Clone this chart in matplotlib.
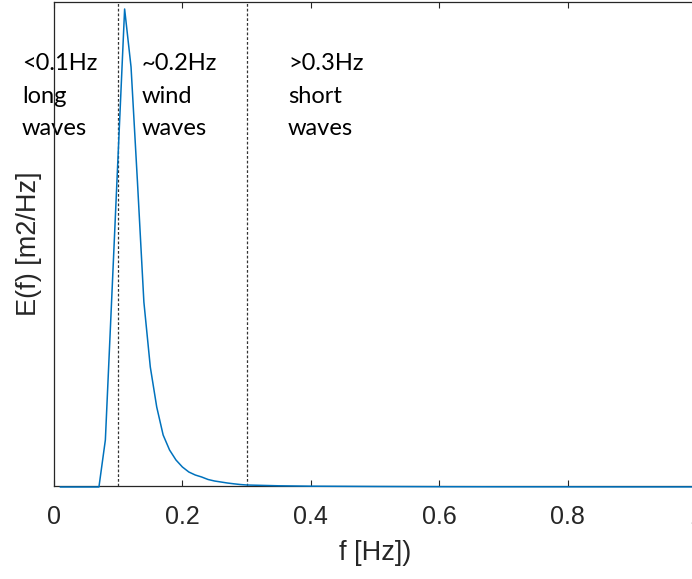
import matplotlib
matplotlib.use("Agg")
import matplotlib.pyplot as plt

# Wave energy spectrum E(f), sampled every 0.01 Hz
freq = [0.01, 0.02, 0.03, 0.04, 0.05, 0.06, 0.07, 0.08, 0.09, 0.10,
        0.11, 0.12, 0.13, 0.14, 0.15, 0.16, 0.17, 0.18, 0.19, 0.20,
        0.21, 0.22, 0.23, 0.24, 0.25, 0.26, 0.27, 0.28, 0.29, 0.30,
        0.35, 0.40, 0.50, 0.60, 0.70, 0.80, 0.90, 1.00]
energy = [0.0, 0.0, 0.0, 0.0, 0.0, 0.0, 0.0, 0.47, 1.90, 3.34,
          4.78, 4.20, 3.05, 1.85, 1.20, 0.80, 0.52, 0.37, 0.27, 0.20,
          0.15, 0.12, 0.10, 0.075, 0.06, 0.05, 0.04, 0.032, 0.025, 0.02,
          0.012, 0.008, 0.005, 0.003, 0.002, 0.0015, 0.001, 0.0008]

band_edges = [0.1, 0.3]
band_labels = [["<0.1Hz", "long", "waves"],
               ["~0.2Hz", "wind", "waves"],
               [">0.3Hz", "short", "waves"]]
xticks = [0, 0.2, 0.4, 0.6, 0.8, 1]
xtick_labels = ["0", "0.2", "0.4", "0.6", "0.8", "1"]

W, H = 692, 579
fig = plt.figure(figsize=(W / 100, H / 100), dpi=100)
fig.patch.set_facecolor("white")

axc = "#262626"
ax = fig.add_axes([54 / W, (H - 485.5) / H, 642 / W, 483.5 / H])
ax.plot(freq, energy, color="#0072BD", lw=1.1, clip_on=False, zorder=3)
for x in band_edges:
    ax.axvline(x, color="#333333", lw=0.9, ls=(0, (2.2, 1.6)), zorder=2)

ax.set_xlim(0, 1)
ax.set_ylim(0.015, 4.85)
ax.set_xticks(xticks)
ax.set_xticklabels(xtick_labels)
ax.set_yticks([])
ax.tick_params(axis="x", direction="in", length=4, width=0.8, top=True,
               colors=axc, labelsize=18, pad=14)
for lbl in ax.get_xticklabels():
    lbl.set_fontfamily("Liberation Sans")
for s in ax.spines.values():
    s.set_color(axc)
    s.set_linewidth(0.9)

ax.set_xlabel("f [Hz])", fontsize=19.5, color=axc, family="Liberation Sans",
              labelpad=8)
ax.set_ylabel("E(f) [m2/Hz]", fontsize=19.5, color=axc, family="Liberation Sans",
              labelpad=9)

# Band annotations, one line at a time
text_x = [22, 142, 288]
baselines = [70, 103, 135]
for tx, lines in zip(text_x, band_labels):
    for by, line in zip(baselines, lines):
        ax.text(tx / W, 1 - by / H, line, transform=fig.transFigure,
                fontsize=17, family="Lato", color="#000000",
                ha="left", va="baseline", zorder=1, clip_on=False)

fig.savefig("out.png", dpi=100)
